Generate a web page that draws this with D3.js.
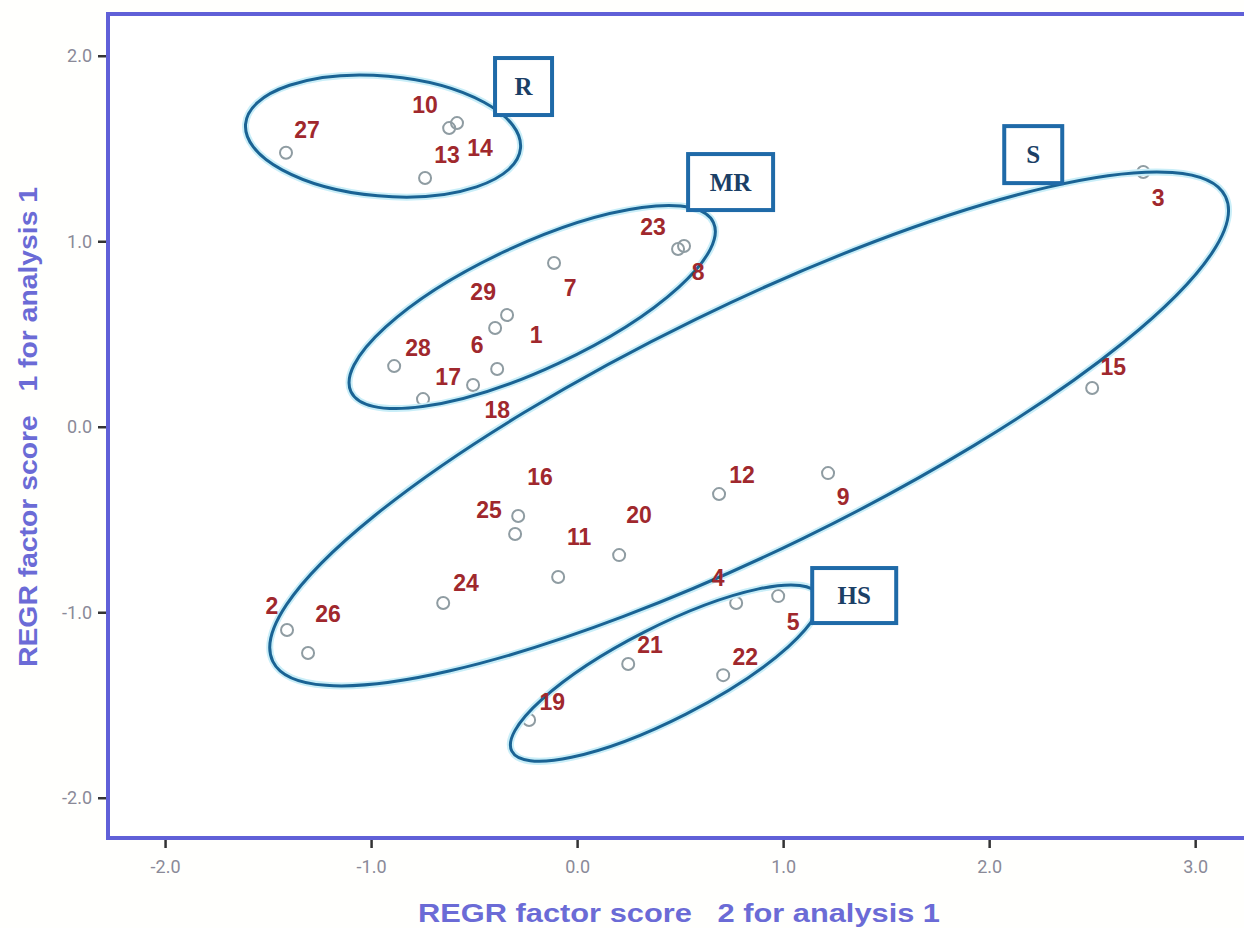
<!DOCTYPE html>
<html>
<head>
<meta charset="utf-8">
<script src="https://cdn.jsdelivr.net/npm/d3@7"></script>
<style>
  html, body { margin: 0; padding: 0; background: #ffffff; }
  svg { display: block; }
</style>
</head>
<body>
<svg id="chart" width="1244" height="928"></svg>
<script>
// ---------- data ----------
const caseIds = [1,2,3,4,5,6,7,8,9,10,11,12,13,14,15,16,17,18,19,20,21,22,23,24,25,26,27,28,29];
const factor2 = [-0.398,-1.408,2.748,0.772,0.976,-0.388,-0.112,0.519,1.218,-0.621,-0.092,0.689,-0.738,-0.583,2.500,-0.286,-0.748,-0.505,-0.233,0.204,0.248,0.709,0.490,-0.650,-0.301,-1.306,-1.413,-0.888,-0.340];
const factor1 = [0.532,-1.096,1.373,-0.950,-0.913,0.311,0.883,0.974,-0.250,1.610,-0.810,-0.363,1.341,1.637,0.209,-0.481,0.149,0.225,-1.581,-0.692,-1.279,-1.339,0.958,-0.950,-0.578,-1.220,1.477,0.327,0.602];
// label anchor (data units)
const labelX = [-0.199,-1.481,2.820,0.684,1.049,-0.485,-0.034,0.587,1.291,-0.738,0.010,0.801,-0.631,-0.471,2.602,-0.180,-0.626,-0.388,-0.121,0.301,0.354,0.816,0.369,-0.539,-0.427,-1.209,-1.311,-0.772,-0.456];
const labelY = [0.494,-0.967,1.232,-0.816,-1.053,0.440,0.748,0.834,-0.379,1.734,-0.594,-0.260,1.465,1.503,0.322,-0.271,0.268,0.090,-1.484,-0.476,-1.177,-1.241,1.077,-0.843,-0.449,-1.010,1.600,0.424,0.726];

const xTicks = [-2, -1, 0, 1, 2, 3];
const yTicks = [-2, -1, 0, 1, 2];
const xTitle = "REGR factor score   2 for analysis 1";
const yTitle = "REGR factor score   1 for analysis 1";

// cluster groups
const groupNames = ["R", "MR", "S", "HS"];
const groupCX = [-0.942, -0.218, 0.835, 0.427];
const groupCY = [1.567, 0.645, -0.012, -1.328];
const groupBoxX = [-0.260, 0.745, 2.214, 1.345];
const groupBoxY = [1.834, 1.319, 1.467, -0.910];
// ellipse shapes (px radii, rotation deg) and box sizes
const ellipseShape = [
  {rx: 138, ry: 60, rot: 5},
  {rx: 200, ry: 62, rot: -25},
  {rx: 530, ry: 122, rot: -26},
  {rx: 172, ry: 46, rot: -27}
];
const boxSize = [[57, 57], [85, 56], [58, 57], [84, 55]];

// ---------- chart ----------
const svg = d3.select("#chart");
const L = 108, T = 14, R = 1244, B = 838;

const x = d3.scaleLinear().domain([-2.277, 3.237]).range([L, R]);
const y = d3.scaleLinear().domain([-2.217, 2.225]).range([B, T]);

svg.append("rect").attr("width", 1244).attr("height", 928).attr("fill", "#fffffd");
svg.append("rect").attr("x", L).attr("y", T).attr("width", R - L + 20).attr("height", B - T).attr("fill", "#ffffff");

// axes
const xAxis = d3.axisBottom(x).tickValues(xTicks).tickFormat(d => d.toFixed(1)).tickSize(10).tickPadding(12);
const yAxis = d3.axisLeft(y).tickValues(yTicks).tickFormat(d => d.toFixed(1)).tickSize(10).tickPadding(6);

const gx = svg.append("g").attr("transform", `translate(0,${B})`).call(xAxis);
const gy = svg.append("g").attr("transform", `translate(${L},0)`).call(yAxis);
[gx, gy].forEach(g => {
  g.select(".domain").remove();
  g.selectAll(".tick line").attr("stroke", "#333").attr("stroke-width", 2.5);
  g.selectAll(".tick text")
    .attr("fill", "#8a8a98")
    .style("font-family", "Roboto, 'Liberation Sans', sans-serif")
    .style("font-size", "18px")
    .style("font-weight", "400");
});

// points
const pts = caseIds.map((id, i) => ({id, x: factor2[i], y: factor1[i], lx: labelX[i], ly: labelY[i]}));

svg.append("g").selectAll("circle").data(pts).join("circle")
  .attr("cx", d => x(d.x)).attr("cy", d => y(d.y)).attr("r", 6)
  .attr("fill", "none").attr("stroke", "#8f9ca2").attr("stroke-width", 2);

// ellipses
const groups = groupNames.map((n, i) => ({name: n, cx: groupCX[i], cy: groupCY[i], bx: groupBoxX[i], by: groupBoxY[i], shape: ellipseShape[i], size: boxSize[i]}));

const ge = svg.append("g");
ge.selectAll("ellipse.halo").data(groups).join("ellipse").attr("class", "halo")
  .attr("cx", d => x(d.cx)).attr("cy", d => y(d.cy))
  .attr("rx", d => d.shape.rx).attr("ry", d => d.shape.ry)
  .attr("transform", d => `rotate(${d.shape.rot},${x(d.cx)},${y(d.cy)})`)
  .attr("fill", "none").attr("stroke", "#c9eef8").attr("stroke-width", 7);
ge.selectAll("ellipse.line").data(groups).join("ellipse").attr("class", "line")
  .attr("cx", d => x(d.cx)).attr("cy", d => y(d.cy))
  .attr("rx", d => d.shape.rx).attr("ry", d => d.shape.ry)
  .attr("transform", d => `rotate(${d.shape.rot},${x(d.cx)},${y(d.cy)})`)
  .attr("fill", "none").attr("stroke", "#1a6394").attr("stroke-width", 3);

// point labels (on top of the ellipses)
svg.append("g").selectAll("text").data(pts).join("text")
  .attr("x", d => x(d.lx)).attr("y", d => y(d.ly))
  .attr("text-anchor", "middle").attr("dominant-baseline", "central")
  .attr("fill", "#a0282d")
  .style("font-family", "'Liberation Sans', Arial, sans-serif")
  .style("font-weight", "bold").style("font-size", "23px")
  .text(d => d.id);

// boxes
const gb = svg.append("g").selectAll("g").data(groups).join("g")
  .attr("transform", d => `translate(${x(d.bx)},${y(d.by)})`);
gb.append("rect")
  .attr("x", d => -d.size[0] / 2).attr("y", d => -d.size[1] / 2)
  .attr("width", d => d.size[0]).attr("height", d => d.size[1])
  .attr("fill", "#ffffff").attr("stroke", "#1f6aa8").attr("stroke-width", 4);
gb.append("text")
  .attr("text-anchor", "middle").attr("dominant-baseline", "central")
  .attr("fill", "#1b3f66")
  .style("font-family", "'Liberation Serif', 'DejaVu Serif', serif")
  .style("font-weight", "bold").style("font-size", "25px")
  .text(d => d.name);

// frame
svg.append("path")
  .attr("d", `M${R + 10},${T} H${L} V${B} H${R + 10}`)
  .attr("fill", "none").attr("stroke", "#6060d8").attr("stroke-width", 4);

// titles
svg.append("text")
  .attr("x", 679).attr("y", 922).attr("text-anchor", "middle")
  .attr("textLength", 522).attr("lengthAdjust", "spacingAndGlyphs")
  .attr("fill", "#6b6bd6")
  .style("font-family", "'Liberation Sans', Arial, sans-serif")
  .style("font-weight", "bold").style("font-size", "25px")
  .style("white-space", "pre")
  .text(xTitle);

svg.append("text")
  .attr("transform", "translate(37,427) rotate(-90)")
  .attr("text-anchor", "middle")
  .attr("textLength", 480).attr("lengthAdjust", "spacingAndGlyphs")
  .attr("fill", "#6b6bd6")
  .style("font-family", "'Liberation Sans', Arial, sans-serif")
  .style("font-weight", "bold").style("font-size", "25px")
  .style("white-space", "pre")
  .text(yTitle);
</script>
</body>
</html>
